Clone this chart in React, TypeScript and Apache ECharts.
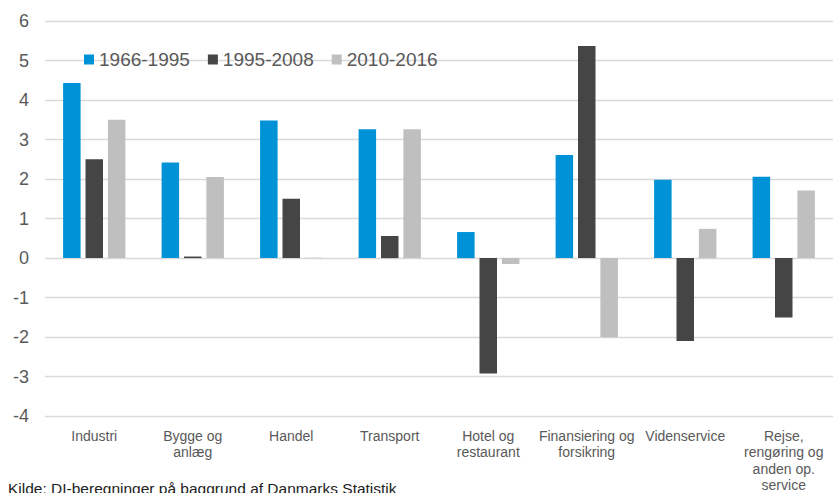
import React, { useEffect, useRef } from "react";
import * as echarts from "echarts";

const categories = [
  "Industri",
  "Bygge og\nanlæg",
  "Handel",
  "Transport",
  "Hotel og\nrestaurant",
  "Finansiering og\nforsikring",
  "Videnservice",
  "Rejse,\nrengøring og\nanden op.\nservice",
];
const seriesNames = ["1966-1995", "1995-2008", "2010-2016"];
const s1966_1995 = [4.43, 2.42, 3.48, 3.26, 0.66, 2.61, 1.98, 2.06];
const s1995_2008 = [2.5, 0.04, 1.5, 0.56, -2.92, 5.37, -2.1, -1.5];
const s2010_2016 = [3.5, 2.05, 0.01, 3.26, -0.15, -2.0, 0.74, 1.71];
const colors = ["#0092d6", "#454545", "#bfbfbf"];
const sourceText = "Kilde: DI-beregninger på baggrund af Danmarks Statistik";

const FONT = "'Liberation Sans', Arial, sans-serif";

export default function App() {
  const ref = useRef<HTMLDivElement>(null);
  useEffect(() => {
    if (!ref.current) return;
    const chart = echarts.init(ref.current, undefined, { renderer: "svg" });
    const data = [s1966_1995, s1995_2008, s2010_2016];
    chart.setOption({
      animation: false,
      textStyle: { fontFamily: FONT },
      grid: { left: 45, right: -8, top: 21, bottom: 71, containLabel: false },
      legend: {
        left: 79,
        top: 45,
        itemWidth: 10,
        itemHeight: 10,
        itemGap: 18,
        icon: "rect",
        textStyle: { fontSize: 19, color: "#595959", fontFamily: FONT },
        data: seriesNames,
      },
      xAxis: {
        type: "category",
        data: categories,
        axisLine: { show: false, onZero: false },
        axisTick: { show: false },
        axisLabel: {
          interval: 0,
          margin: 12,
          fontSize: 14,
          lineHeight: 16.2,
          color: "#595959",
          fontFamily: FONT,
        },
      },
      yAxis: {
        type: "value",
        min: -4,
        max: 6,
        interval: 1,
        axisLine: { show: false },
        axisTick: { show: false },
        axisLabel: { fontSize: 18, color: "#595959", margin: 16, fontFamily: FONT },
        splitLine: { lineStyle: { color: "#d9d9d9", width: 1.3 } },
      },
      series: seriesNames.map((name, i) => ({
        name,
        type: "bar",
        data: data[i],
        barWidth: 17.5,
        barGap: "28%",
        itemStyle: { color: colors[i] },
      })),
      graphic: [
        {
          type: "text",
          left: 8,
          top: 480,
          style: { text: sourceText, fontSize: 15.5, fill: "#222", fontFamily: FONT },
        },
      ],
    });
    return () => chart.dispose();
  }, []);
  return (
    <div
      ref={ref}
      style={{
        position: "absolute",
        left: 0,
        top: 0,
        width: 833,
        height: 493,
        overflow: "hidden",
      }}
    />
  );
}
